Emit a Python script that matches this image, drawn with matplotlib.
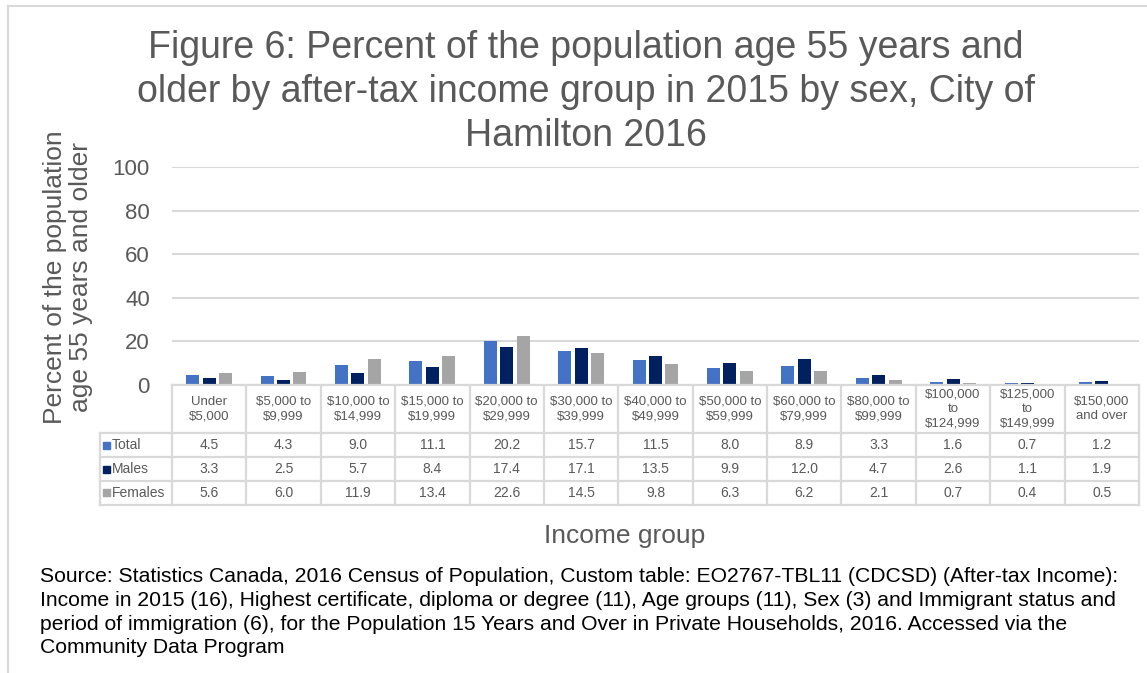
import matplotlib
matplotlib.use("Agg")
import matplotlib.pyplot as plt
from matplotlib.transforms import blended_transform_factory
from matplotlib.patches import Rectangle
from matplotlib.lines import Line2D

plt.rcParams['font.family'] = ['Liberation Sans', 'DejaVu Sans']

categories = ["Under\n$5,000", "$5,000 to\n$9,999", "$10,000 to\n$14,999", "$15,000 to\n$19,999",
              "$20,000 to\n$29,999", "$30,000 to\n$39,999", "$40,000 to\n$49,999", "$50,000 to\n$59,999",
              "$60,000 to\n$79,999", "$80,000 to\n$99,999", "$100,000\nto\n$124,999",
              "$125,000\nto\n$149,999", "$150,000\nand over"]
total = [4.5, 4.3, 9.0, 11.1, 20.2, 15.7, 11.5, 8.0, 8.9, 3.3, 1.6, 0.7, 1.2]
males = [3.3, 2.5, 5.7, 8.4, 17.4, 17.1, 13.5, 9.9, 12.0, 4.7, 2.6, 1.1, 1.9]
females = [5.6, 6.0, 11.9, 13.4, 22.6, 14.5, 9.8, 6.3, 6.2, 2.1, 0.7, 0.4, 0.5]
series_names = ["Total", "Males", "Females"]
series_colors = ["#4472C4", "#002060", "#A5A5A5"]
yticks = [0, 20, 40, 60, 80, 100]

W, H = 1147, 673
fig = plt.figure(figsize=(W / 100, H / 100), dpi=100)

def fx(px):
    return px / W

def fy(py):
    return 1 - py / H

ax_left, ax_right, ax_top, ax_bot = 172, 1139, 167, 385
ax = fig.add_axes([fx(ax_left), fy(ax_bot), fx(ax_right - ax_left), (ax_bot - ax_top) / H])
n = len(categories)
xs = list(range(n))
bw = 0.175
step = 0.22
for k, (vals, col) in enumerate(zip([total, males, females], series_colors)):
    ax.bar([x + (k - 1) * step for x in xs], vals, width=bw, color=col, zorder=3)
ax.set_xlim(-0.5, n - 0.5)
ax.set_ylim(0, 100)
ax.set_yticks(yticks)
ax.set_yticklabels([str(t) for t in yticks], fontsize=16, color="#595959")
ax.tick_params(axis='y', length=0, pad=16)
ax.set_xticks([])
for s in ax.spines.values():
    s.set_visible(False)
ax.grid(axis='y', color="#D9D9D9", linewidth=1.5, zorder=0)

# Data table
trans = blended_transform_factory(ax.transData, fig.transFigure)
row_y = [385, 433, 457, 481, 505]
line_col = "#D9D9D9"
lw = 1.6
for i, yy in enumerate(row_y):
    fig.add_artist(Line2D([fx(ax_left) if i == 0 else fx(100), fx(ax_right)], [fy(yy), fy(yy)],
                          color=line_col, linewidth=lw))
for j in range(n + 1):
    xv = j - 0.5
    fig.add_artist(Line2D([xv, xv], [fy(385), fy(505)], transform=trans, color=line_col, linewidth=lw))
fig.add_artist(Line2D([fx(100), fx(100)], [fy(433), fy(505)], color=line_col, linewidth=lw))

for i, lab in enumerate(categories):
    fig.text(i, fy((385 + 433) / 2), lab, transform=trans, ha='center', va='center',
             fontsize=9.5, color="#595959", linespacing=1.3)
for r, (vals, name, col) in enumerate(zip([total, males, females], series_names, series_colors)):
    yc = fy((row_y[r + 1] + row_y[r + 2]) / 2)
    for i, v in enumerate(vals):
        fig.text(i, yc, f"{v:.1f}", transform=trans, ha='center', va='center',
                 fontsize=10, color="#595959")
    fig.add_artist(Rectangle((fx(103), yc - 3.5 / H), 7 / W, 7 / H, color=col))
    fig.text(fx(112), yc, name, ha='left', va='center', fontsize=10, color="#595959")

# Title
fig.text(fx(586), fy(92), "Figure 6: Percent of the population age 55 years and\nolder by after-tax income group in 2015 by sex, City of\nHamilton 2016",
         ha='center', va='center', fontsize=27, color="#595959", linespacing=1.28)

# Y label
fig.text(fx(68), fy(277), "Percent of the population\nage 55 years and older", rotation=90,
         ha='center', va='center', fontsize=19, color="#595959", linespacing=1.1)

# X label
fig.text(fx(625), fy(536), "Income group", ha='center', va='center', fontsize=19, color="#595959")

# Source
fig.text(fx(40), fy(567), "Source: Statistics Canada, 2016 Census of Population, Custom table: EO2767-TBL11 (CDCSD) (After-tax Income):\n"
         "Income in 2015 (16), Highest certificate, diploma or degree (11), Age groups (11), Sex (3) and Immigrant status and\n"
         "period of immigration (6), for the Population 15 Years and Over in Private Households, 2016. Accessed via the\n"
         "Community Data Program",
         ha='left', va='top', fontsize=15.2, color="#000000", linespacing=1.32)

# Outer frame
fig.add_artist(Line2D([fx(8), fx(1147)], [fy(6), fy(6)], color=line_col, linewidth=1.5))
fig.add_artist(Line2D([fx(8), fx(8)], [fy(6), fy(673)], color=line_col, linewidth=1.5))

fig.savefig("out.png", dpi=100)
